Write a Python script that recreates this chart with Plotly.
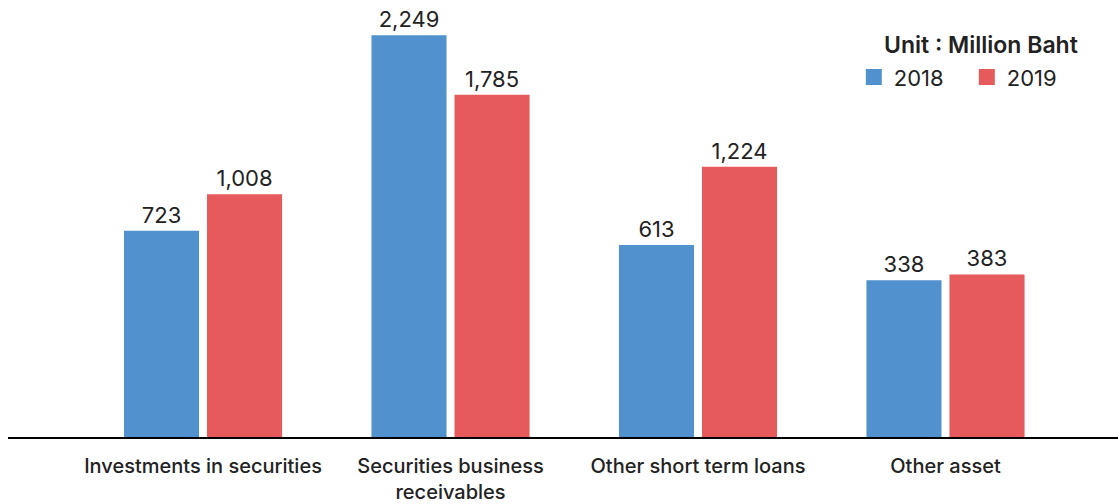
import plotly.graph_objects as go

categories = ["Investments in securities", "Securities business<br>receivables",
              "Other short term loans", "Other asset"]
years = ["2018", "2019"]
values_2018 = [723, 2249, 613, 338]
values_2019 = [1008, 1785, 1224, 383]
unit_label = "Unit : Million Baht"

colors = {"2018": "#5191CE", "2019": "#E65A5C"}
AXIS_FLOOR = -885  # visual baseline of the chart (axis does not start at zero)
FONT = "Inter"

fig = go.Figure()
for year, vals in zip(years, [values_2018, values_2019]):
    fig.add_trace(go.Bar(
        name=year,
        x=categories,
        y=[v - AXIS_FLOOR for v in vals],
        base=AXIS_FLOOR,
        marker=dict(color=colors[year], line=dict(width=0)),
        text=[f"{v:,}" for v in vals],
        textposition="outside",
        cliponaxis=False,
        textfont=dict(family=FONT, size=22, color="#222222"),
        hovertext=[f"{v:,}" for v in vals],
        showlegend=False,
    ))
# legend entries (larger square swatches)
for year in years:
    fig.add_trace(go.Scatter(
        name=year, x=[None], y=[None], mode="markers",
        marker=dict(symbol="square", size=22, color=colors[year]),
        showlegend=True,
    ))

fig.update_layout(
    width=1118, height=504,
    margin=dict(l=8, r=0, t=5, b=67, autoexpand=False),
    paper_bgcolor="white", plot_bgcolor="white",
    barmode="group", bargap=0.329, bargroupgap=0.096,
    font=dict(family=FONT, color="#222222"),
    showlegend=True,
    legend=dict(orientation="h", x=0.762, y=0.833, xanchor="left", yanchor="middle",
                font=dict(family=FONT, size=22, color="#222222"),
                itemwidth=30, entrywidth=68, entrywidthmode="pixels",
                tracegroupgap=0, bgcolor="rgba(0,0,0,0)"),
    xaxis=dict(range=[-0.788, 3.697], showline=True, linecolor="black", linewidth=2,
               ticks="", showgrid=False, zeroline=False, ticklabelstandoff=10,
               automargin=False,
               tickfont=dict(family=FONT, size=20, color="#222222", weight=500)),
    yaxis=dict(range=[AXIS_FLOOR, 2485], visible=False, showgrid=False, zeroline=False,
               automargin=False),
    annotations=[dict(text=unit_label, x=0.877, y=0.907, xref="paper", yref="paper",
                      xanchor="center", yanchor="middle", showarrow=False,
                      font=dict(family=FONT, size=23, color="#222222", weight=600))],
)

fig.write_html("out.html")
